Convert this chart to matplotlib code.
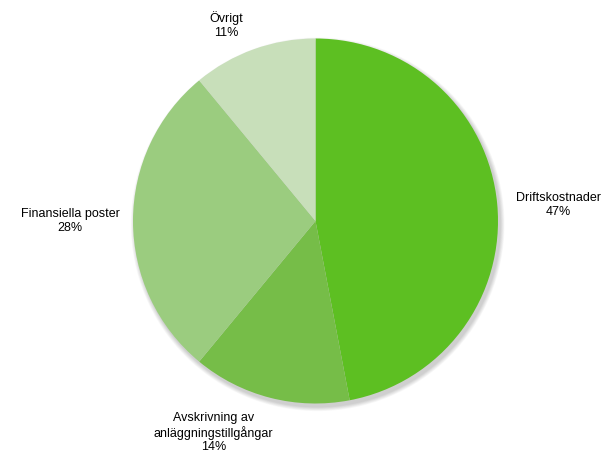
import matplotlib
matplotlib.use("Agg")
import matplotlib.pyplot as plt
from matplotlib.patches import Ellipse

labels = ["Driftskostnader", "Avskrivning av\nanläggningstillgångar", "Finansiella poster", "Övrigt"]
values = [47, 14, 28, 11]
colors = ["#5dbf22", "#76bd48", "#9bcc7f", "#c8dfba"]

plt.rcParams['font.family'] = ['Liberation Sans', 'DejaVu Sans']

fig = plt.figure(figsize=(6.06, 4.56), dpi=100)
ax = fig.add_axes([0, 0, 1, 1])
ax.axis('off')

cx, cy, r = 315.5, 222.0, 182.5
ax.set_xlim(-cx / r, (606 - cx) / r)
ax.set_ylim((cy - 456) / r, cy / r)

# soft shadow
for i in range(8):
    ax.add_patch(Ellipse((0.012, -0.018), 2 + 0.006 * (8 - i), 2 + 0.006 * (8 - i),
                         facecolor='#000000', alpha=0.025, edgecolor='none', zorder=0))

wedges, _ = ax.pie(values, colors=colors, startangle=90, counterclock=False,
                   radius=1.0, wedgeprops=dict(linewidth=0), frame=False)
ax.set_aspect('auto')
ax.set_xlim(-cx / r, (606 - cx) / r)
ax.set_ylim((cy - 456) / r, cy / r)

label_pos = [(1.33, 0.093), (-0.56, -1.155), (-1.345, 0.005), (-0.49, 1.08)]
for lab, v, (x, y) in zip(labels, values, label_pos):
    ax.text(x, y, f"{lab}\n{v}%", ha='center', va='center', fontsize=9,
            color='#000000', linespacing=1.15)

fig.savefig("out.png", dpi=100)
